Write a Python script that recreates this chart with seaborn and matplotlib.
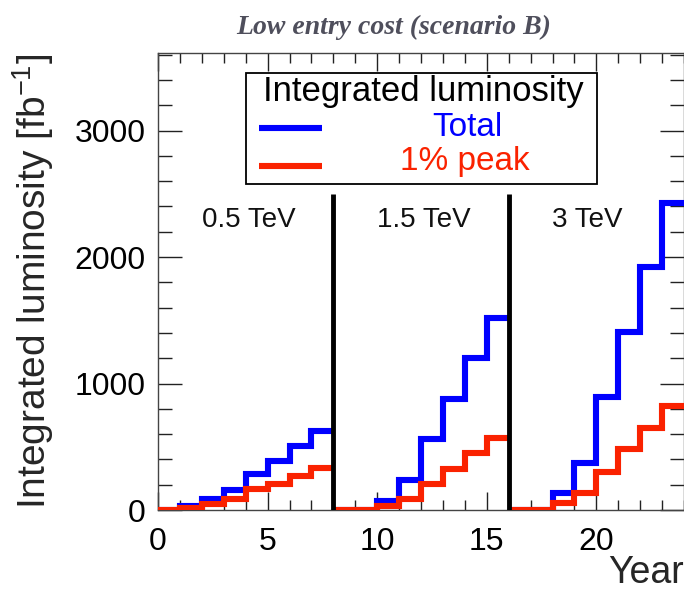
import matplotlib
matplotlib.use("Agg")
import matplotlib.pyplot as plt
import seaborn as sns
import pandas as pd
import numpy as np
from matplotlib.ticker import MultipleLocator
from matplotlib.patches import Rectangle
from matplotlib.lines import Line2D

# ---- data ----
section_starts = [0, 8, 16]
section_labels = ["0.5 TeV", "1.5 TeV", "3 TeV"]
total_lumi = [
    [0, 31, 85, 158, 282, 387, 508, 624],
    [0, 0, 71, 235, 559, 877, 1199, 1515],
    [0, 0, 137, 374, 891, 1407, 1923, 2429],
]
peak_lumi = [
    [0, 18, 47, 85, 166, 205, 271, 334],
    [0, 0, 32, 87, 203, 324, 448, 567],
    [0, 0, 53, 132, 298, 480, 646, 822],
]
x_ticks = [0, 5, 10, 15, 20]
y_ticks = [0, 1000, 2000, 3000]
divider_years = [8, 16]
divider_top = 2500

BLUE = "#0000ff"
RED = "#fa2200"

sns.set_theme(style="ticks")
plt.rcParams["font.family"] = ["Liberation Sans", "DejaVu Sans"]

fig = plt.figure(figsize=(6.84, 5.96), dpi=100)
ax = fig.add_axes([158 / 684, 86 / 596, 526 / 684, 457 / 596])

rows = []
for s, start in enumerate(section_starts):
    n = len(total_lumi[s])
    for i in range(n + 1):
        v_t = total_lumi[s][min(i, n - 1)]
        v_p = peak_lumi[s][min(i, n - 1)]
        rows.append(dict(section=s, year=start + i, value=v_t, kind="Total"))
        rows.append(dict(section=s, year=start + i, value=v_p, kind="1% peak"))
df = pd.DataFrame(rows)

for s in range(len(section_starts)):
    d = df[df.section == s]
    sns.lineplot(data=d[d.kind == "Total"], x="year", y="value", ax=ax,
                 color=BLUE, lw=4.4, drawstyle="steps-post", estimator=None,
                 legend=False, solid_joinstyle="miter", solid_capstyle="butt",
                 zorder=3)
    sns.lineplot(data=d[d.kind == "1% peak"], x="year", y="value", ax=ax,
                 color=RED, lw=4.4, drawstyle="steps-post", estimator=None,
                 legend=False, solid_joinstyle="miter", solid_capstyle="butt",
                 zorder=4)

for xv in divider_years:
    ax.plot([xv, xv], [0, divider_top], color="black", lw=3.5, zorder=5,
            solid_capstyle="butt")

for start, lab in zip(section_starts, section_labels):
    ax.text(start + 2.0, 2293, lab, fontsize=20, ha="left", va="center",
            color="#111111", zorder=6)

ax.set_xlim(0, 24)
ax.set_ylim(0, 3613)
ax.set_xticks(x_ticks)
ax.set_yticks(y_ticks)
ax.xaxis.set_minor_locator(MultipleLocator(1))
ax.yaxis.set_minor_locator(MultipleLocator(200))
ax.tick_params(which="both", direction="in", top=True, right=True,
               colors="#222222", labelcolor="black", width=1.0)
ax.tick_params(axis="x", which="major", length=13, labelsize=23, pad=12)
ax.tick_params(axis="x", which="minor", length=7)
ax.tick_params(axis="y", which="major", length=17, labelsize=23, pad=9)
ax.tick_params(axis="y", which="minor", length=10)
for sp in ax.spines.values():
    sp.set_color("#444444")
    sp.set_linewidth(1.0)

ax.set_xlabel("Year", fontsize=27, loc="right")
ax.xaxis.set_label_coords(1.0, -0.098)
ax.set_ylabel("Integrated luminosity [fb$^{\\mathregular{-1}}$]", fontsize=28)
ax.yaxis.set_label_coords(-0.193, 0.5)

# legend box (drawn in figure pixel coords)
W, H = 684.0, 596.0
def fx(px):
    return px / W
def fy(py):
    return 1 - py / H

fig.add_artist(Rectangle((fx(246), fy(184)), fx(597) - fx(246), fy(73) - fy(184),
                         transform=fig.transFigure, facecolor="white",
                         edgecolor="black", lw=1.3, zorder=10))
fig.text(fx(423), fy(91), "Integrated luminosity", fontsize=25, ha="center",
         va="center", color="black", zorder=11)
fig.add_artist(Line2D([fx(259), fx(322)], [fy(128), fy(128)], color=BLUE,
                      lw=4.4, transform=fig.transFigure, zorder=11,
                      solid_capstyle="butt"))
fig.add_artist(Line2D([fx(259), fx(322)], [fy(166), fy(166)], color=RED,
                      lw=4.4, transform=fig.transFigure, zorder=11,
                      solid_capstyle="butt"))
fig.text(fx(467), fy(128), "Total", fontsize=24, ha="center", va="center",
         color=BLUE, zorder=11)
fig.text(fx(465), fy(161), "1% peak", fontsize=24, ha="center", va="center",
         color=RED, zorder=11)

fig.text(fx(394), fy(27), "Low entry cost (scenario B)", fontsize=20,
         family=["Liberation Serif", "DejaVu Serif"], style="italic",
         weight="bold", color="#4f4f5c", ha="center", va="center")

fig.savefig("out.png", dpi=100)
